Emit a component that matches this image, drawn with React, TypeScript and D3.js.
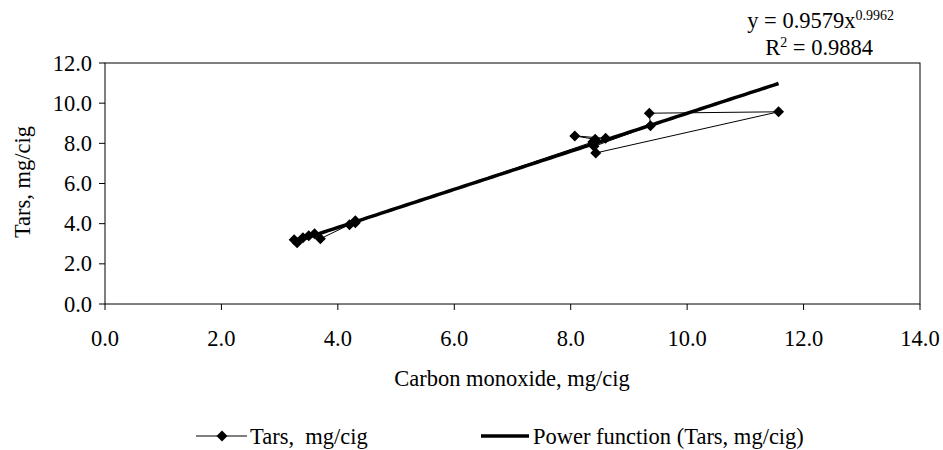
import React from "react";
import * as d3 from "d3";

const carbonMonoxide = [3.3, 3.25, 3.4, 3.5, 3.6, 3.7, 4.2, 4.3, 4.3, 8.38, 8.42, 8.07, 8.6, 8.4, 9.37, 9.35, 11.57, 8.43];
const tars = [3.05, 3.2, 3.3, 3.4, 3.5, 3.25, 3.95, 4.15, 4.05, 8.07, 8.2, 8.37, 8.25, 7.85, 8.87, 9.5, 9.57, 7.52];
const xTicks = [0, 2, 4, 6, 8, 10, 12, 14];
const yTicks = [0, 2, 4, 6, 8, 10, 12];
const trendA = 0.9579;
const trendB = 0.9962;
const r2 = 0.9884;

const W = 943;
const H = 450;
const FONT = "Liberation Serif, Tinos, Times New Roman, serif";
const FS = 22.5;
const SUP = 14;

export default function App() {
  const left = 105, right = 920, top = 63, bottom = 304;
  const x = d3.scaleLinear().domain([0, 14]).range([left, right]);
  const y = d3.scaleLinear().domain([0, 12]).range([bottom, top]);

  const pts = carbonMonoxide.map((c, i) => [c, tars[i]] as [number, number]);
  const line = d3.line<[number, number]>().x(d => x(d[0])).y(d => y(d[1]));

  const xmin = d3.min(carbonMonoxide)!;
  const xmax = d3.max(carbonMonoxide)!;
  const trendPts: [number, number][] = d3.range(0, 101).map(i => {
    const xv = xmin + (xmax - xmin) * i / 100;
    return [xv, trendA * Math.pow(xv, trendB)];
  });

  const diamond = (cx: number, cy: number, r: number) =>
    `M${cx},${cy - r}L${cx + r},${cy}L${cx},${cy + r}L${cx - r},${cy}Z`;

  return (
    <svg width={W} height={H} style={{ display: "block", position: "absolute", left: 0, top: 0, fontFamily: FONT }}>
      <rect x={0} y={0} width={W} height={H} fill="#fff" />
      <rect x={left} y={top} width={right - left} height={bottom - top} fill="none" stroke="#000" strokeWidth={1} />
      {yTicks.map(t => (
        <g key={"y" + t}>
          <line x1={left - 6} x2={left} y1={y(t)} y2={y(t)} stroke="#000" />
          <text x={left - 13} y={y(t)} dy="0.34em" textAnchor="end" fontSize={FS} style={{ fontFamily: FONT }}>{t.toFixed(1)}</text>
        </g>
      ))}
      {xTicks.map(t => (
        <g key={"x" + t}>
          <line x1={x(t)} x2={x(t)} y1={bottom} y2={bottom + 6} stroke="#000" />
          <text x={x(t)} y={338} dy="0.34em" textAnchor="middle" fontSize={FS} style={{ fontFamily: FONT }}>{t.toFixed(1)}</text>
        </g>
      ))}
      <text x={512} y={378} dy="0.34em" textAnchor="middle" fontSize={FS} style={{ fontFamily: FONT }}>Carbon monoxide, mg/cig</text>
      <text transform={`translate(22,182) rotate(-90)`} dy="0.34em" textAnchor="middle" fontSize={FS} style={{ fontFamily: FONT }}>Tars, mg/cig</text>

      <path d={line(pts)!} fill="none" stroke="#000" strokeWidth={1} />
      {pts.map((p, i) => (
        <path key={i} d={diamond(x(p[0]), y(p[1]), 5.5)} fill="#000" />
      ))}
      <path d={line(trendPts)!} fill="none" stroke="#000" strokeWidth={3.5} />

      <text x={894} y={20} dy="0.34em" textAnchor="end" fontSize={FS} style={{ fontFamily: FONT }}>
        y = {trendA}x<tspan dy="-8" fontSize={SUP}>{trendB}</tspan>
      </text>
      <text x={873} y={47} dy="0.34em" textAnchor="end" fontSize={FS} style={{ fontFamily: FONT }}>
        R<tspan dy="-8" fontSize={SUP}>2</tspan><tspan dy="8"> = {r2}</tspan>
      </text>

      <line x1={196} x2={247} y1={436} y2={436} stroke="#000" strokeWidth={1} />
      <path d={diamond(222, 436, 5.5)} fill="#000" />
      <text x={250} y={436} dy="0.34em" fontSize={FS} style={{ fontFamily: FONT, whiteSpace: "pre" }}>{"Tars,  mg/cig"}</text>
      <line x1={481} x2={529} y1={436} y2={436} stroke="#000" strokeWidth={3.5} />
      <text x={533} y={436} dy="0.34em" fontSize={FS} style={{ fontFamily: FONT }}>Power function (Tars, mg/cig)</text>
    </svg>
  );
}
